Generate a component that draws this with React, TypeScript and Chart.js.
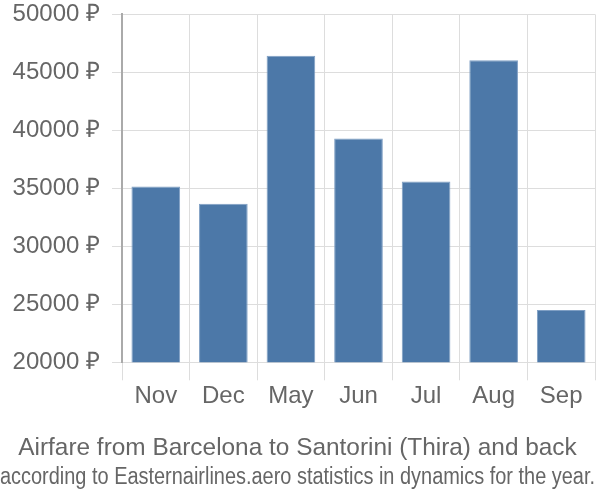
import React, { useEffect, useRef } from "react";
import { Chart, registerables } from "chart.js";

Chart.register(...registerables);

const categories = ["Nov", "Dec", "May", "Jun", "Jul", "Aug", "Sep"];
const prices = [35170, 33680, 46440, 39310, 35600, 46040, 24510];
const yTicks = [20000, 25000, 30000, 35000, 40000, 45000, 50000];
const titleText = "Airfare from Barcelona to Santorini (Thira) and back";
const subtitleText = "according to Easternairlines.aero statistics in dynamics for the year.";

const FONT = "Liberation Sans, Arial, sans-serif";

export default function App() {
  const ref = useRef<HTMLCanvasElement | null>(null);
  useEffect(() => {
    if (!ref.current) return;
    const chart = new Chart(ref.current, {
      type: "bar",
      data: {
        labels: categories,
        datasets: [
          {
            data: prices,
            backgroundColor: "#4c78a8",
            borderColor: "#7f9fc4",
            borderWidth: 1,
            categoryPercentage: 0.8,
            barPercentage: 0.9,
          },
        ],
      },
      options: {
        responsive: false,
        animation: false,
        layout: { padding: { top: 0, right: 5, left: 0, bottom: 0 } },
        plugins: {
          legend: { display: false },
          tooltip: { enabled: false },
          // outermost bottom line
          title: {
            display: true,
            position: "bottom",
            text: subtitleText,
            color: "#666",
            font: { family: FONT, size: 23, weight: "normal" },
            padding: { top: 0, bottom: 9 },
          },
          // line closer to the chart
          subtitle: {
            display: true,
            position: "bottom",
            text: titleText,
            color: "#666",
            font: { family: FONT, size: 24.4, weight: "normal" },
            padding: { top: 21, bottom: 0 },
          },
        },
        scales: {
          x: {
            grid: { color: "#dddddd", lineWidth: 1, tickLength: 18, offset: true },
            border: { display: false },
            ticks: {
              color: "#666",
              font: { family: FONT, size: 24 },
              padding: 2,
            },
          },
          y: {
            min: 20000,
            max: 50000,
            afterBuildTicks: (axis: any) => {
              axis.ticks = yTicks.map((v) => ({ value: v }));
            },
            afterFit: (axis: any) => {
              axis.width = 122;
            },
            grid: { color: "#dddddd", lineWidth: 1, tickLength: 10 },
            border: { display: true, color: "#aaaaaa", width: 2 },
            ticks: {
              color: "#666",
              font: { family: FONT, size: 24 },
              padding: 0,
              callback: (v: any) => `${v} ₽\u2002`,
            },
          },
        },
      },
    });
    return () => chart.destroy();
  }, []);
  return (
    <div style={{ position: "fixed", left: 0, top: 0, width: 600, height: 500, background: "#fff" }}>
      <canvas ref={ref} width={600} height={500} />
    </div>
  );
}
